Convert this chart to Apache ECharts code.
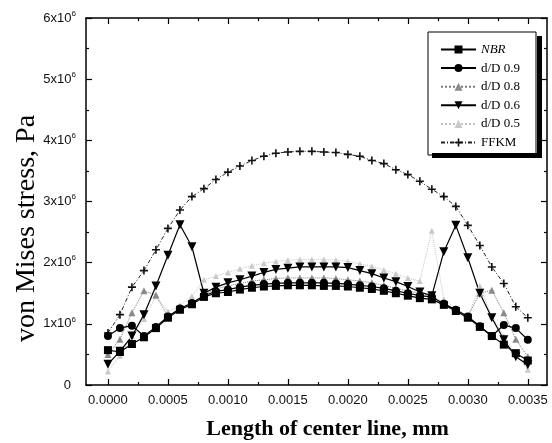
<!DOCTYPE html>
<html>
<head>
<meta charset="utf-8">
<script src="https://cdn.jsdelivr.net/npm/echarts@6/dist/echarts.min.js"></script>
<style>
  html, body { margin: 0; padding: 0; background: #fff; }
  #chart { width: 552px; height: 443px; }
</style>
</head>
<body>
<div id="chart"></div>
<script>
// position along the center line, mm
var positions = [0.0000, 0.0001, 0.0002, 0.0003, 0.0004, 0.0005, 0.0006, 0.0007, 0.0008, 0.0009,
                 0.0010, 0.0011, 0.0012, 0.0013, 0.0014, 0.0015, 0.0016, 0.0017, 0.0018, 0.0019,
                 0.0020, 0.0021, 0.0022, 0.0023, 0.0024, 0.0025, 0.0026, 0.0027, 0.0028, 0.0029,
                 0.0030, 0.0031, 0.0032, 0.0033, 0.0034, 0.0035];

// von Mises stress, x10^6 Pa
var nbr   = [0.57, 0.54, 0.67, 0.78, 0.93, 1.10, 1.23, 1.32, 1.44, 1.50, 1.52, 1.56, 1.59, 1.61, 1.62, 1.63, 1.63, 1.63,
             1.62, 1.62, 1.61, 1.59, 1.57, 1.54, 1.50, 1.46, 1.42, 1.40, 1.31, 1.21, 1.10, 0.95, 0.80, 0.66, 0.52, 0.40];
var dd09  = [0.80, 0.93, 0.97, 0.80, 0.95, 1.12, 1.25, 1.34, 1.46, 1.53, 1.56, 1.60, 1.63, 1.65, 1.66, 1.67, 1.67, 1.67,
             1.67, 1.66, 1.65, 1.63, 1.61, 1.58, 1.54, 1.50, 1.46, 1.44, 1.33, 1.23, 1.12, 0.96, 0.80, 0.98, 0.93, 0.74];
var dd08  = [0.50, 0.75, 1.18, 1.54, 1.47, 1.12, 1.24, 1.34, 1.48, 1.57, 1.62, 1.66, 1.70, 1.72, 1.74, 1.75, 1.75, 1.75,
             1.75, 1.74, 1.72, 1.70, 1.67, 1.63, 1.58, 1.54, 1.50, 1.46, 1.33, 1.22, 1.12, 1.50, 1.55, 1.18, 0.75, 0.46];
var dd06  = [0.34, 0.55, 0.80, 1.15, 1.62, 2.12, 2.62, 2.26, 1.50, 1.60, 1.67, 1.72, 1.78, 1.84, 1.89, 1.91, 1.93, 1.93,
             1.93, 1.93, 1.92, 1.87, 1.82, 1.75, 1.69, 1.61, 1.52, 1.46, 2.18, 2.61, 2.08, 1.50, 1.10, 0.74, 0.46, 0.33];
var dd05  = [0.22, 0.48, 0.80, 1.08, 1.45, 1.20, 1.30, 1.45, 1.72, 1.78, 1.84, 1.90, 1.95, 1.99, 2.02, 2.04, 2.05, 2.05,
             2.05, 2.04, 2.02, 1.98, 1.94, 1.88, 1.82, 1.75, 1.70, 2.52, 1.40, 1.25, 1.12, 1.62, 1.12, 0.80, 0.50, 0.25];
var ffkm  = [0.85, 1.15, 1.60, 1.87, 2.21, 2.56, 2.86, 3.08, 3.21, 3.36, 3.48, 3.58, 3.67, 3.74, 3.79, 3.81, 3.82, 3.82,
             3.81, 3.80, 3.77, 3.74, 3.67, 3.62, 3.52, 3.44, 3.33, 3.20, 3.08, 2.92, 2.61, 2.28, 1.93, 1.66, 1.28, 1.10];

var seriesNames = ['NBR', 'd/D 0.9', 'd/D 0.8', 'd/D 0.6', 'd/D 0.5', 'FFKM'];

// axis ticks
var xTicks = [0, 0.0005, 0.0010, 0.0015, 0.0020, 0.0025, 0.0030, 0.0035];
var xMinorTicks = [0.00025, 0.00075, 0.00125, 0.00175, 0.00225, 0.00275, 0.00325];

var xMin = -0.000183;
var xMax = 0.00366;

var pair = function (ys) {
    var out = [];
    for (var i = 0; i < positions.length; i++) {
        out.push([positions[i], ys[i]]);
    }
    return out;
};

var plusSymbol = 'path://M4,0H6V4H10V6H6V10H4V6H0V4H4Z';

var chart = echarts.init(document.getElementById('chart'), null, { renderer: 'canvas' });

var makeX = function (position, ticks, len, showLine, showLabel) {
    return {
        type: 'value',
        position: position,
        min: xMin,
        max: xMax,
        splitLine: { show: false },
        axisLine: { show: showLine, onZero: false, lineStyle: { color: '#000', width: 1.5 } },
        axisTick: { show: true, inside: true, length: len, customValues: ticks, lineStyle: { color: '#000', width: 1.2 } },
        axisLabel: {
            show: showLabel,
            customValues: ticks,
            margin: 9,
            fontFamily: 'Liberation Sans',
            fontSize: 13,
            color: '#111',
            formatter: function (v) { return v.toFixed(4); }
        }
    };
};

var xAxes = [
    makeX('bottom', xTicks, 6, true, true),
    makeX('bottom', xMinorTicks, 3, false, false),
    makeX('top', xTicks, 6, true, false),
    makeX('top', xMinorTicks, 3, false, false)
];
xAxes[0].name = 'Length of center line, mm';
xAxes[0].nameLocation = 'middle';
xAxes[0].nameGap = 33;
xAxes[0].nameMoveOverlap = false;
xAxes[0].nameTextStyle = {
    fontFamily: 'Liberation Serif',
    fontWeight: 'bold',
    fontSize: 22,
    color: '#000',
    padding: [0, 0, 0, 22]
};

var makeY = function (position, showLabel) {
    return {
        type: 'value',
        position: position,
        min: 0,
        max: 6,
        interval: 1,
        splitLine: { show: false },
        axisLine: { show: true, onZero: false, lineStyle: { color: '#000', width: 1.5 } },
        axisTick: { show: true, inside: true, length: 6, lineStyle: { color: '#000', width: 1.2 } },
        minorTick: { show: true, splitNumber: 2, length: 3, lineStyle: { color: '#000', width: 1.2 } },
        axisLabel: {
            show: showLabel,
            margin: 10,
            formatter: function (v) {
                if (v === 0) return '{z|0}';
                return '{b|' + v + 'x10}{s|6}';
            },
            rich: {
                b: { fontFamily: 'Liberation Sans', fontSize: 13, color: '#111' },
                s: { fontFamily: 'Liberation Sans', fontSize: 8, color: '#111', padding: [0, 0, 9, 0] },
                z: { fontFamily: 'Liberation Sans', fontSize: 13, color: '#111', padding: [0, 5, 0, 0] }
            }
        }
    };
};

var yAxes = [makeY('left', true), makeY('right', false)];
yAxes[0].name = 'von Mises stress, Pa';
yAxes[0].nameLocation = 'middle';
yAxes[0].nameGap = 45;
yAxes[0].nameMoveOverlap = false;
yAxes[0].nameTextStyle = {
    fontFamily: 'Liberation Serif',
    fontSize: 28,
    color: '#000',
    padding: [0, 54, 0, 0]
};

var option = {
    backgroundColor: '#fff',
    animation: false,
    grid: { left: 86, right: 5, top: 18, bottom: 58, outerBoundsMode: 'none' },
    // legend box drop shadow: a strip on the right and one at the bottom
    graphic: [
        { type: 'rect', z: 100, shape: { x: 537, y: 36, width: 5, height: 122 }, style: { fill: '#000' } },
        { type: 'rect', z: 100, shape: { x: 432, y: 153, width: 110, height: 5 }, style: { fill: '#000' } }
    ],
    legend: {
        data: seriesNames,
        orient: 'vertical',
        left: 428,
        top: 32,
        itemWidth: 35,
        itemHeight: 10,
        itemGap: 5.6,
        padding: [11, 16, 6, 12],
        backgroundColor: '#fff',
        borderColor: '#000',
        borderWidth: 1,
        textStyle: {
            fontFamily: 'Liberation Serif', fontSize: 13, lineHeight: 13, color: '#000',
            rich: {
                i: { fontFamily: 'Liberation Serif', fontStyle: 'italic', fontSize: 13, lineHeight: 13, color: '#000' }
            }
        },
        formatter: function (name) {
            return name === 'NBR' ? '{i|NBR}' : name;
        }
    },
    xAxis: xAxes,
    yAxis: yAxes,
    series: [
        {
            name: 'd/D 0.5', type: 'line', data: pair(dd05),
            symbol: 'triangle', symbolSize: 6,
            itemStyle: { color: '#c9c9c9' },
            lineStyle: { color: '#c4c4c4', width: 1, type: 'dotted' }
        },
        {
            name: 'FFKM', type: 'line', data: pair(ffkm),
            symbol: plusSymbol, symbolSize: 8,
            itemStyle: { color: '#111' },
            lineStyle: { color: '#222', width: 1, type: [4, 2, 1, 2] }
        },
        {
            name: 'd/D 0.8', type: 'line', data: pair(dd08),
            symbol: 'triangle', symbolSize: 7,
            itemStyle: { color: '#8a8a8a' },
            lineStyle: { color: '#7a7a7a', width: 1, type: 'dotted' }
        },
        {
            name: 'd/D 0.6', type: 'line', data: pair(dd06),
            symbol: 'triangle', symbolRotate: 180, symbolSize: 9,
            itemStyle: { color: '#000' },
            lineStyle: { color: '#000', width: 1.2 }
        },
        {
            name: 'd/D 0.9', type: 'line', data: pair(dd09),
            symbol: 'circle', symbolSize: 8,
            itemStyle: { color: '#000' },
            lineStyle: { color: '#000', width: 1.2 }
        },
        {
            name: 'NBR', type: 'line', data: pair(nbr),
            symbol: 'rect', symbolSize: 8,
            itemStyle: { color: '#000' },
            lineStyle: { color: '#000', width: 1.2 }
        }
    ]
};

chart.setOption(option);
</script>
</body>
</html>
